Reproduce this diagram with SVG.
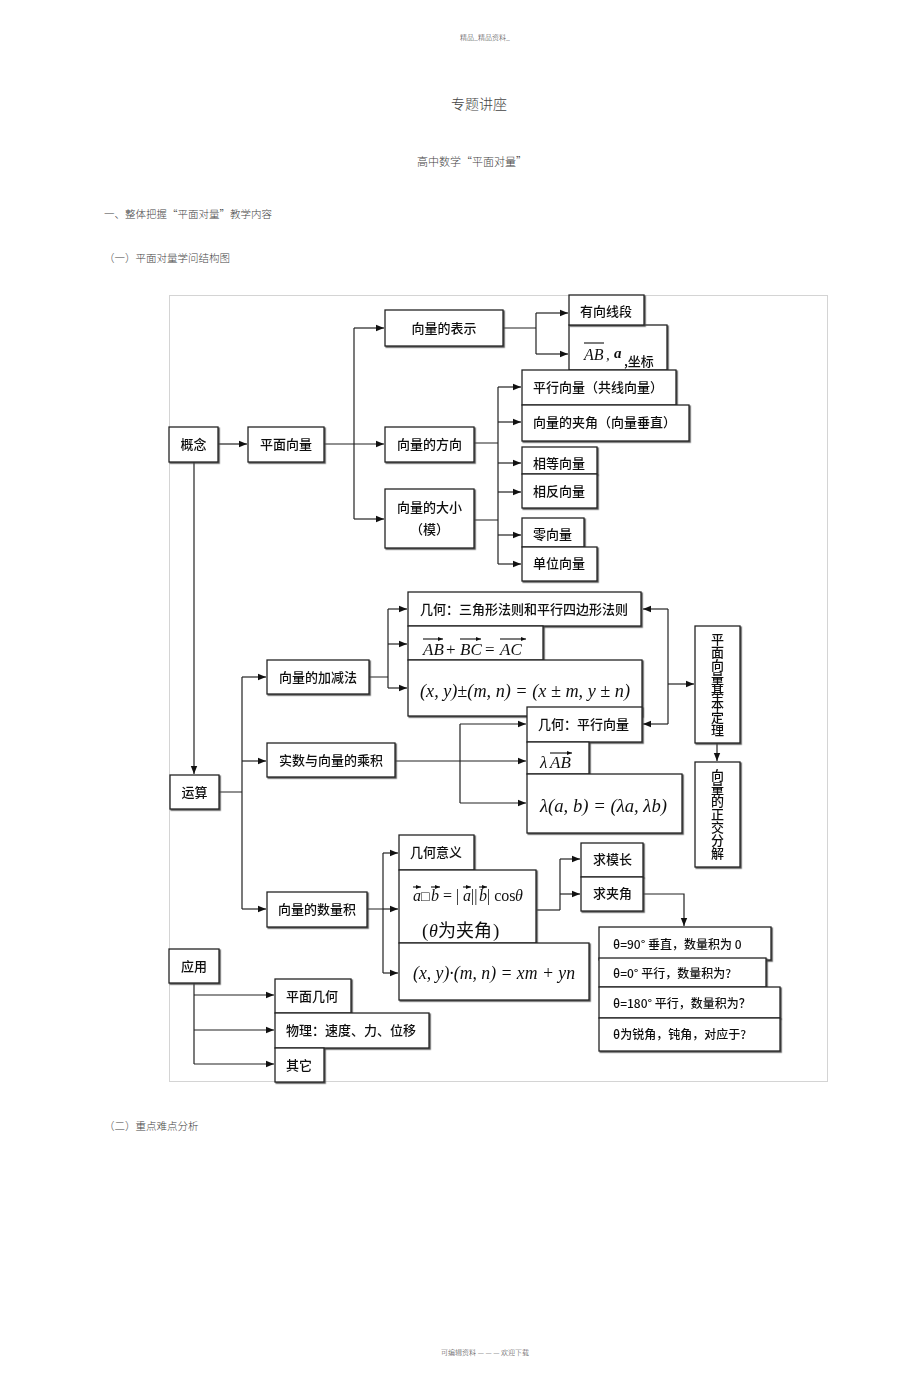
<svg xmlns="http://www.w3.org/2000/svg" width="920" height="1389" viewBox="0 0 920 1389">
<style>
.bx{fill:#fff;stroke:#222;stroke-width:1.3}
.t{font-family:"Noto Sans CJK SC","Noto Sans",sans-serif;font-size:13px;fill:#111;font-weight:500}
.tc{text-anchor:middle}
.s{font-family:"Noto Sans CJK SC","Noto Sans",sans-serif;font-size:12px;fill:#111;font-weight:500}
.m{font-family:"Liberation Serif","DejaVu Serif",serif;font-style:italic;fill:#111}
.mu{font-family:"Liberation Serif","DejaVu Serif",serif;fill:#111}
.h{font-family:"Noto Sans CJK SC","Noto Sans",sans-serif;fill:#444;font-weight:300}
.v{font-family:"Noto Sans CJK SC","Noto Sans",sans-serif;font-size:13px;fill:#111;font-weight:500;writing-mode:tb;glyph-orientation-vertical:0}
.c{fill:none;stroke:#222;stroke-width:1.2}
.ca{fill:none;stroke:#222;stroke-width:1.2;marker-end:url(#ah)}
.ov{stroke:#111;stroke-width:1.1}
</style>
<defs>
<marker id="ah" viewBox="0 0 10 10" refX="10" refY="5" markerWidth="8" markerHeight="8" markerUnits="userSpaceOnUse" orient="auto"><path d="M0,1 L10,5 L0,9 z" fill="#111"/></marker>
<marker id="va" viewBox="0 0 10 10" refX="10" refY="5" markerWidth="5" markerHeight="5" markerUnits="userSpaceOnUse" orient="auto"><path d="M0,1 L10,5 L0,9 z" fill="#111"/></marker>
<filter id="ds" x="-5%" y="-5%" width="115%" height="120%"><feDropShadow dx="1.2" dy="1.2" stdDeviation="0.2" flood-color="#444" flood-opacity="0.9"/></filter>
</defs>
<rect width="920" height="1389" fill="#fff"/>

<g id="header">
<text class="h" x="485" y="40" font-size="7" text-anchor="middle">精品_精品资料_</text>
<text class="h" x="479" y="109" font-size="14" text-anchor="middle">专题讲座</text>
<text class="h" x="472" y="166" font-size="11" text-anchor="middle">高中数学“平面对量”</text>
<text class="h" x="104" y="218" font-size="10.5">一、整体把握“平面对量”教学内容</text>
<text class="h" x="104" y="262" font-size="10.5">（一）平面对量学问结构图</text>
<text class="h" x="104" y="1130" font-size="10.5">（二）重点难点分析</text>
<text class="h" x="485" y="1355" font-size="7" text-anchor="middle">可编辑资料  — — —  欢迎下载</text>
</g>

<rect id="frame" x="169.5" y="295.5" width="658" height="786" fill="none" stroke="#d4d4d4" stroke-width="1"/>

<g id="connectors">
<path class="ca" d="M218,444 H247"/>
<path class="ca" d="M324,444 H384"/>
<path class="c" d="M354,328 V519"/>
<path class="ca" d="M354,328 H384"/>
<path class="ca" d="M354,519 H384"/>
<path class="c" d="M503,328 H536 M536,313 V354"/>
<path class="ca" d="M536,313 H568"/>
<path class="ca" d="M536,354 H568"/>
<path class="c" d="M474,443 H498 M498,387 V564 M474,520 H498"/>
<path class="ca" d="M498,387 H521"/>
<path class="ca" d="M498,422 H521"/>
<path class="ca" d="M498,463 H521"/>
<path class="ca" d="M498,492 H521"/>
<path class="ca" d="M498,535 H521"/>
<path class="ca" d="M498,564 H521"/>
<path class="ca" d="M194,462 V774"/>
<path class="c" d="M219,792 H242 M242,677 V909"/>
<path class="ca" d="M242,677 H266"/>
<path class="ca" d="M242,761 H266"/>
<path class="ca" d="M242,909 H266"/>
<path class="c" d="M369,677 H388 M388,609 V688"/>
<path class="ca" d="M388,609 H407"/>
<path class="ca" d="M388,644 H407"/>
<path class="ca" d="M388,688 H407"/>
<path class="c" d="M395,761 H460 M460,724 V803"/>
<path class="ca" d="M460,724 H526"/>
<path class="ca" d="M460,761 H526"/>
<path class="ca" d="M460,803 H526"/>
<path class="c" d="M668,609 V724"/>
<path class="ca" d="M668,609 H643"/>
<path class="ca" d="M668,724 H643"/>
<path class="ca" d="M668,684 H694" stroke-width="2"/>
<path class="ca" d="M717,743 V761"/>
<path class="c" d="M367,909 H383 M383,853 V973"/>
<path class="ca" d="M383,853 H398"/>
<path class="ca" d="M383,909 H398"/>
<path class="ca" d="M383,973 H398"/>
<path class="c" d="M537,910 H560" stroke-width="2"/>
<path class="c" d="M560,859 V910"/>
<path class="ca" d="M560,859 H580"/>
<path class="ca" d="M560,894 H580"/>
<path class="ca" d="M643,894 H684 V926"/>
<path class="c" d="M194,983 V1064"/>
<path class="ca" d="M194,995 H274"/>
<path class="ca" d="M194,1030 H274"/>
<path class="ca" d="M194,1064 H274"/>
</g>

<g id="n-gainian" filter="url(#ds)"><rect class="bx" x="169" y="427" width="49" height="35"/><text class="t tc" x="193.5" y="449">概念</text></g>
<g id="n-pmxl" filter="url(#ds)"><rect class="bx" x="248" y="427" width="76" height="35"/><text class="t tc" x="286" y="449">平面向量</text></g>
<g id="n-biaoshi" filter="url(#ds)"><rect class="bx" x="385" y="310" width="118" height="36"/><text class="t tc" x="444" y="333">向量的表示</text></g>
<g id="n-fangxiang" filter="url(#ds)"><rect class="bx" x="385" y="427" width="89" height="35"/><text class="t tc" x="429.5" y="449">向量的方向</text></g>
<g id="n-daxiao" filter="url(#ds)"><rect class="bx" x="385" y="489" width="89" height="59"/><text class="t tc" x="429.5" y="512">向量的大小</text><text class="t tc" x="429.5" y="534">（模）</text></g>

<g id="n-ab" filter="url(#ds)"><rect class="bx" x="569" y="325" width="98" height="45"/>
<text class="m" x="584" y="360" font-size="16">AB</text><line class="ov" x1="584" y1="343" x2="604" y2="343"/>
<text class="m" x="606" y="360" font-size="15">,</text>
<text class="m" x="614" y="358" font-size="15" font-weight="bold">a</text>
<text class="t" x="624" y="366">,坐标</text></g>
<g id="n-youxiang" filter="url(#ds)"><rect class="bx" x="569" y="295" width="75" height="30"/><text class="t" x="580" y="316">有向线段</text></g>
<g id="n-pingxing" filter="url(#ds)"><rect class="bx" x="522" y="370" width="154" height="35"/><text class="t" x="533" y="392">平行向量（共线向量）</text></g>
<g id="n-jiajiao" filter="url(#ds)"><rect class="bx" x="522" y="405" width="167" height="36"/><text class="t" x="533" y="427">向量的夹角（向量垂直）</text></g>
<g id="n-xiangdeng" filter="url(#ds)"><rect class="bx" x="522" y="447" width="75" height="27"/><text class="t" x="533" y="468">相等向量</text></g>
<g id="n-xiangfan" filter="url(#ds)"><rect class="bx" x="522" y="474" width="75" height="34"/><text class="t" x="533" y="496">相反向量</text></g>
<g id="n-ling" filter="url(#ds)"><rect class="bx" x="522" y="518" width="62" height="29"/><text class="t" x="533" y="539">零向量</text></g>
<g id="n-danwei" filter="url(#ds)"><rect class="bx" x="522" y="547" width="75" height="34"/><text class="t" x="533" y="568">单位向量</text></g>

<g id="n-yunsuan" filter="url(#ds)"><rect class="bx" x="170" y="775" width="49" height="34"/><text class="t tc" x="194.5" y="797">运算</text></g>
<g id="n-jiajian" filter="url(#ds)"><rect class="bx" x="267" y="660" width="102" height="34"/><text class="t tc" x="318" y="682">向量的加减法</text></g>
<g id="n-chengji" filter="url(#ds)"><rect class="bx" x="267" y="743" width="128" height="34"/><text class="t tc" x="331" y="765">实数与向量的乘积</text></g>

<g id="n-jihe1" filter="url(#ds)"><rect class="bx" x="408" y="592" width="233" height="34"/><text class="t" x="420" y="614">几何：三角形法则和平行四边形法则</text></g>
<g id="n-abbc" filter="url(#ds)"><rect class="bx" x="408" y="626" width="135" height="34"/>
<text class="m" x="423" y="655" font-size="17">AB</text><text class="mu" x="446" y="655" font-size="17">+</text><text class="m" x="460" y="655" font-size="17">BC</text><text class="mu" x="485" y="655" font-size="17">=</text><text class="m" x="500" y="655" font-size="17">AC</text>
<line class="ov" x1="423" y1="639" x2="443" y2="639" marker-end="url(#va)"/><line class="ov" x1="460" y1="639" x2="481" y2="639" marker-end="url(#va)"/><line class="ov" x1="500" y1="639" x2="526" y2="639" marker-end="url(#va)"/></g>
<g id="n-xy" filter="url(#ds)"><rect class="bx" x="408" y="660" width="234" height="56"/>
<text class="m" x="420" y="697" font-size="19" textLength="210" lengthAdjust="spacingAndGlyphs">(x, y)±(m, n) = (x ± m, y ± n)</text></g>
<g id="n-jihe2" filter="url(#ds)"><rect class="bx" x="527" y="707" width="115" height="35"/><text class="t" x="538" y="729">几何：平行向量</text></g>
<g id="n-lab" filter="url(#ds)"><rect class="bx" x="527" y="742" width="62" height="32"/>
<text class="m" x="540" y="768" font-size="17">λ</text><text class="m" x="550" y="768" font-size="17">AB</text><line class="ov" x1="550" y1="753" x2="572" y2="753" marker-end="url(#va)"/></g>
<g id="n-lambda" filter="url(#ds)"><rect class="bx" x="527" y="774" width="155" height="59"/>
<text class="m" x="540" y="812" font-size="19" textLength="127" lengthAdjust="spacingAndGlyphs">λ(a, b) = (λa, λb)</text></g>

<g id="n-jiben" filter="url(#ds)"><rect class="bx" x="695" y="626" width="45" height="117"/>
<text class="v" x="717.5" y="633">平面向量基本定理</text></g>
<g id="n-zhengjiao" filter="url(#ds)"><rect class="bx" x="695" y="762" width="45" height="105" stroke-width="1.8"/>
<text class="v" x="717.5" y="769">向量的正交分解</text></g>

<g id="n-shuliangji" filter="url(#ds)"><rect class="bx" x="267" y="892" width="100" height="35"/><text class="t tc" x="317" y="914">向量的数量积</text></g>
<g id="n-jiheyiyi" filter="url(#ds)"><rect class="bx" x="399" y="835" width="75" height="35"/><text class="t" x="410" y="857">几何意义</text></g>
<g id="n-dot" filter="url(#ds)"><rect class="bx" x="399" y="870" width="137" height="73"/>
<text class="m" x="413" y="901" font-size="16">a</text><text class="mu" x="421" y="901" font-size="14">□</text><text class="m" x="431" y="901" font-size="16">b</text>
<line class="ov" x1="413" y1="887" x2="421" y2="887" marker-end="url(#va)"/><line class="ov" x1="431" y1="887" x2="440" y2="887" marker-end="url(#va)"/>
<text class="mu" x="443" y="901" font-size="16">= |</text><text class="m" x="463" y="901" font-size="16">a</text><text class="mu" x="471" y="901" font-size="16">||</text><text class="m" x="479" y="901" font-size="16">b</text><text class="mu" x="487" y="901" font-size="16">| cos</text><text class="m" x="515" y="901" font-size="16">θ</text>
<line class="ov" x1="463" y1="887" x2="471" y2="887" marker-end="url(#va)"/><line class="ov" x1="479" y1="887" x2="487" y2="887" marker-end="url(#va)"/>
<text class="mu" x="422" y="937" font-size="19">(</text><text class="m" x="429" y="937" font-size="18">θ</text><text class="t" x="438" y="937" style="font-size:18px;font-weight:400">为夹角</text><text class="mu" x="493" y="937" font-size="19">)</text></g>
<g id="n-dotxy" filter="url(#ds)"><rect class="bx" x="399" y="943" width="190" height="57"/>
<text class="m" x="413" y="979" font-size="18" textLength="162" lengthAdjust="spacingAndGlyphs">(x, y)·(m, n) = xm + yn</text></g>
<g id="n-mochang" filter="url(#ds)"><rect class="bx" x="581" y="843" width="62" height="34"/><text class="t" x="593" y="864">求模长</text></g>
<g id="n-qiujiajiao" filter="url(#ds)"><rect class="bx" x="581" y="877" width="62" height="34"/><text class="t" x="593" y="898">求夹角</text></g>
<g id="n-t90" filter="url(#ds)"><rect class="bx" x="599" y="927" width="172" height="33"/><text class="s" x="613" y="949">θ=90°  垂直，数量积为 0</text></g>
<g id="n-t0" filter="url(#ds)"><rect class="bx" x="599" y="958" width="167" height="29"/><text class="s" x="613" y="978">θ=0°  平行，数量积为?</text></g>
<g id="n-t180" filter="url(#ds)"><rect class="bx" x="599" y="987" width="181" height="31"/><text class="s" x="613" y="1008">θ=180°  平行，数量积为？</text></g>
<g id="n-tacute" filter="url(#ds)"><rect class="bx" x="599" y="1018" width="181" height="33"/><text class="s" x="613" y="1039">θ为锐角，钝角，对应于?</text></g>

<g id="n-yingyong" filter="url(#ds)"><rect class="bx" x="169" y="949" width="50" height="34"/><text class="t tc" x="194" y="971">应用</text></g>
<g id="n-pmjh" filter="url(#ds)"><rect class="bx" x="275" y="979" width="76" height="34"/><text class="t" x="286" y="1001">平面几何</text></g>
<g id="n-wuli" filter="url(#ds)"><rect class="bx" x="275" y="1013" width="154" height="35"/><text class="t" x="286" y="1035">物理：速度、力、位移</text></g>
<g id="n-qita" filter="url(#ds)"><rect class="bx" x="275" y="1048" width="49" height="34"/><text class="t" x="286" y="1070">其它</text></g>
</svg>
